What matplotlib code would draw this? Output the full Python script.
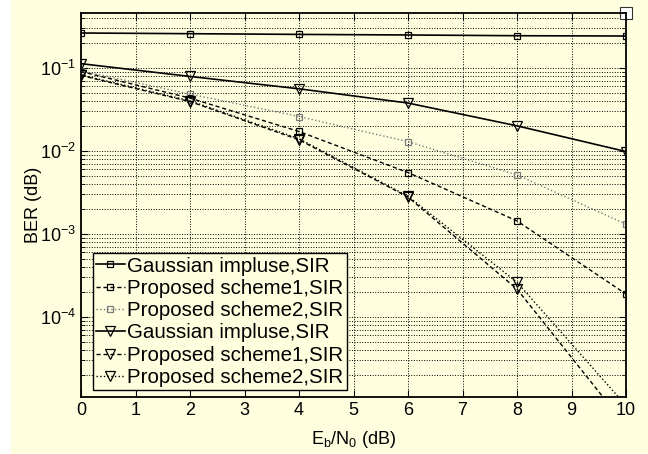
import matplotlib
matplotlib.use("Agg")
import matplotlib.pyplot as plt
from matplotlib.ticker import FixedLocator, FixedFormatter, LogLocator, NullFormatter

plt.rcParams["font.family"] = ["Liberation Sans", "DejaVu Sans"]
plt.rcParams["mathtext.fontset"] = "custom"
plt.rcParams["mathtext.rm"] = "Liberation Sans"
plt.rcParams["mathtext.it"] = "Liberation Sans:italic"

# Eb/N0 (dB)
snr = [0, 2, 4, 6, 8, 10]

# BER values
gauss_sq = [0.262, 0.257, 0.252, 0.248, 0.243, 0.241]
scheme1_sq = [0.090, 0.0431, 0.0171, 0.00548, 0.001435, 1.89e-4]
scheme2_sq = [0.092, 0.0482, 0.0259, 0.0129, 0.00514, 1.31e-3]
gauss_tri = [0.112, 0.0786, 0.0558, 0.0376, 0.020, 0.0098]
scheme1_tri = [0.0807, 0.0392, 0.0136, 0.00278, 2.17e-4, 4.9e-6]
scheme2_tri = [0.082, 0.040, 0.0140, 0.00285, 2.62e-4, 8.6e-6]

# stray marker at the top right corner
corner_x = [10]
corner_y = [0.46]

labels = ["Gaussian impluse,SIR", "Proposed scheme1,SIR", "Proposed scheme2,SIR",
          "Gaussian impluse,SIR", "Proposed scheme1,SIR", "Proposed scheme2,SIR"]

bg = "#FFFFE0"
grey = "#7a7a7a"

fig = plt.figure(figsize=(6.48, 4.54), dpi=100)
fig.patch.set_facecolor("white")
fig.patches.append(plt.Rectangle((11 / 648, 0), 1, 1, transform=fig.transFigure,
                                 facecolor=bg, edgecolor="none", zorder=-10))
ax = fig.add_axes([81 / 648, 1 - 397 / 454, 545 / 648, 384 / 454])
ax.set_facecolor(bg)

ms = 5
ax.plot(snr, gauss_sq, color="k", ls="-", lw=1.2, marker="s", ms=ms, mfc="none", mew=0.9, label=labels[0])
ax.plot(snr, scheme1_sq, color="k", ls=(0, (3, 2)), lw=1.0, marker="s", ms=ms, mfc="none", mew=0.9, label=labels[1])
ax.plot(snr, scheme2_sq, color=grey, ls=":", lw=1.0, marker="s", ms=ms, mfc="none", mew=0.9, label=labels[2])
ax.plot(snr, gauss_tri, color="k", ls="-", lw=1.2, marker="v", ms=6.5, mfc="none", mew=0.9, label=labels[3])
ax.plot(snr, scheme1_tri, color="k", ls=(0, (3, 2)), lw=1.0, marker="v", ms=6.5, mfc="none", mew=0.9, label=labels[4])
ax.plot(snr, scheme2_tri, color="k", ls=":", lw=1.0, marker="v", ms=6.5, mfc="none", mew=0.9, label=labels[5])
ax.plot(corner_x, corner_y, ls="none", marker="s", ms=8, mfc="white", mec="#333333",
        mew=0.8, clip_on=False)

ax.set_yscale("log")
ax.set_xlim(0, 10)
ax.set_ylim(1.09e-5, 0.456)
ax.set_xticks(range(0, 11))

ax.yaxis.set_major_locator(FixedLocator([1e-4, 1e-3, 1e-2, 1e-1]))
ax.yaxis.set_major_formatter(FixedFormatter([r"$\mathregular{10^{-4}}$", r"$\mathregular{10^{-3}}$",
                                             r"$\mathregular{10^{-2}}$", r"$\mathregular{10^{-1}}$"]))
ax.yaxis.set_minor_locator(LogLocator(base=10, subs=range(2, 10), numticks=20))
ax.yaxis.set_minor_formatter(NullFormatter())

ax.grid(True, which="major", axis="both", ls=":", color="k", lw=0.7)
ax.grid(True, which="minor", axis="y", ls=":", color="k", lw=0.7)

ax.tick_params(which="both", direction="in", top=True, right=True, labelsize=13)
ax.tick_params(which="major", length=5, width=0.8)
ax.tick_params(which="minor", length=3, width=0.6)
for s in ax.spines.values():
    s.set_linewidth(1.3)

ax.set_xlabel(r"E$_{\mathregular{b}}$/N$_{\mathregular{0}}$ (dB)", fontsize=13, labelpad=7)
ax.set_ylabel("BER (dB)", fontsize=13)
ax.yaxis.set_label_coords(-0.072, 0.5)

leg = ax.legend(loc="lower left", bbox_to_anchor=(0.022, 0.018), fontsize=14.8, frameon=True,
                fancybox=False, edgecolor="k", facecolor=bg, framealpha=1,
                handlelength=1.4, handletextpad=0.12, labelspacing=0.16, borderpad=0.15,
                borderaxespad=0)
leg.get_frame().set_linewidth(1.0)

fig.savefig("out.png", dpi=100, facecolor=fig.get_facecolor())
plt.close(fig)
